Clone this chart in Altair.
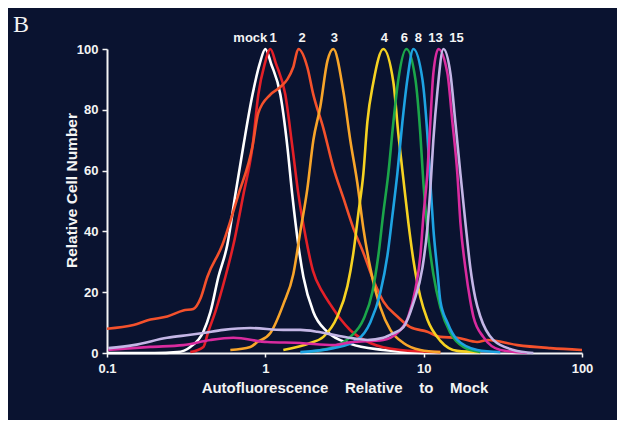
import altair as alt
import pandas as pd

SERIES = ["mock", "1", "2", "3", "4", "6", "8", "13", "15"]
COLORS = ["#ffffff", "#e42028", "#f4512c", "#f8a52a", "#f6d222", "#1ba64a", "#1ea3e2", "#d92b9f", "#c4b6e6"]

MOCK_X = [0.1, 0.2, 0.278, 0.336, 0.406, 0.45, 0.505, 0.575, 0.646, 0.726, 0.83, 0.92, 1.0, 1.09, 1.244, 1.377, 1.48, 1.616, 1.74, 2.01, 2.46, 3.44, 5.56, 10.0]
MOCK_Y = [0, 0, 0.3, 2, 7, 13.5, 25, 35.5, 52, 68, 85, 95, 100, 95, 85, 68, 52, 35.5, 25, 13.5, 7, 3, 1, 0]

S1_X = [0.336, 0.406, 0.436, 0.483, 0.559, 0.628, 0.726, 0.83, 0.903, 0.99, 1.076, 1.17, 1.337, 1.48, 1.62, 1.8, 2.0, 2.3, 2.574, 3.0, 3.44, 4.6, 7.13, 12.75]
S1_Y = [0.3, 2, 7, 13.5, 25, 35.5, 52, 68, 85, 95, 100, 95, 85, 68, 52, 38, 27, 20, 16, 11, 7.5, 3.3, 1, 0.3]

S2_X = [0.1, 0.147, 0.188, 0.24, 0.303, 0.351, 0.39, 0.43, 0.535, 0.675, 0.83, 0.903, 1.076, 1.244, 1.377, 1.5, 1.616, 1.842, 2.01, 2.324, 2.689, 3.11, 3.6, 4.16, 4.81, 5.56, 6.82, 8.24, 10.55, 12.75, 16.32, 21.8, 25.3, 39.1, 63.1, 100]
S2_Y = [8, 9.2, 11, 12, 14, 14.5, 18, 25, 35.5, 52, 68, 79, 85, 87.5, 90, 94, 100, 94, 85, 74, 61, 51, 41, 33, 24, 17, 12, 8.5, 7, 5.3, 5, 3.6, 4.3, 2.6, 1.6, 1]

S3_X = [0.601, 0.804, 0.89, 1.076, 1.299, 1.503, 1.664, 1.842, 2.01, 2.224, 2.465, 2.689, 3.11, 3.44, 3.81, 4.16, 4.6, 5.33, 6.16, 7.45, 9.53, 12.75]
S3_Y = [1, 2, 3.6, 6.6, 16, 26, 40, 54, 70, 81, 96, 100, 86, 70, 56, 41, 28, 15, 7.6, 3.3, 1, 0.3]

S4_X = [1.299, 1.923, 2.324, 2.85, 3.3, 3.6, 3.87, 4.16, 4.41, 4.81, 5.56, 6.44, 6.92, 7.45, 8.0, 8.61, 9.53, 10.55, 12.75, 16.32, 22.8]
S4_Y = [1, 3.3, 5.3, 12, 22, 33, 46, 59, 76, 89, 100, 89, 72, 57, 43, 30.6, 18.4, 11, 4, 0.7, 0.3]

S6_X = [1.923, 2.689, 3.44, 4.16, 4.74, 5.17, 5.56, 5.98, 6.44, 6.92, 7.78, 8.87, 9.53, 9.96, 10.55, 11.51, 12.75, 14.75, 17.82, 22.8]
S6_Y = [0.5, 2, 5.3, 11, 20, 32, 46, 59, 76, 90, 100, 90, 72, 56, 41, 26, 15, 6.6, 2, 0.3]

S8_X = [1.664, 2.689, 3.81, 4.6, 5.33, 5.9, 6.34, 6.82, 7.34, 7.89, 8.61, 9.82, 10.55, 11.02, 11.51, 12.21, 12.75, 14.12, 16.32, 21.8, 30.5]
S8_Y = [0.3, 1.6, 4.3, 10, 20, 32, 45, 59, 76, 90, 100, 90, 72, 56, 41, 27, 17, 10, 4.3, 1, 0.3]

S13_X = [0.102, 0.188, 0.303, 0.45, 0.628, 1.03, 1.664, 2.689, 3.44, 5.56, 6.82, 8.0, 8.87, 9.53, 9.96, 10.55, 11.02, 11.51, 12.39, 14.12, 15.18, 16.32, 17.06, 18.34, 19.72, 20.6, 23.8, 30.5, 45.2]
S13_Y = [1, 2, 2.6, 4.3, 5, 3.6, 3.3, 2.6, 3.5, 4.3, 6.6, 12, 21, 32, 45, 59, 76, 92, 100, 92, 76, 59, 43, 28, 17, 12, 5.3, 1, 0]

S15_X = [0.102, 0.147, 0.24, 0.336, 0.406, 0.543, 0.804, 1.3, 1.664, 2.13, 2.689, 3.6, 4.41, 5.56, 6.44, 7.45, 8.61, 9.82, 10.55, 11.02, 11.51, 12.21, 13.32, 14.75, 15.85, 17.06, 18.34, 19.72, 21.2, 22.8, 27.5, 36.9, 49.3]
S15_Y = [1.6, 2.6, 5, 6, 6.6, 7.6, 8.2, 7.6, 7.6, 7, 6, 4.8, 4.3, 5, 6.5, 8.5, 16.4, 28, 41, 54, 70, 86, 100, 92, 76, 59, 43, 28, 18, 12, 4.3, 1, 0]

LABEL_TEXT = ["mock", "1", "2", "3", "4", "6", "8", "13", "15"]
LABEL_X = [0.804, 1.12, 1.71, 2.73, 5.65, 7.55, 9.26, 11.86, 16.1]
LABEL_Y = [103.6] * 9

X_TICKS = [0.1, 1, 10, 100]
Y_TICKS = [0, 20, 40, 60, 80, 100]

XS = [MOCK_X, S1_X, S2_X, S3_X, S4_X, S6_X, S8_X, S13_X, S15_X]
YS = [MOCK_Y, S1_Y, S2_Y, S3_Y, S4_Y, S6_Y, S8_Y, S13_Y, S15_Y]

rows = []
for k, (name, xs, ys) in enumerate(zip(SERIES, XS, YS)):
    for i, (x, y) in enumerate(zip(xs, ys)):
        rows.append({"series": name, "k": k, "i": i, "x": x, "y": y})
df = pd.DataFrame(rows)
labels = pd.DataFrame({"t": LABEL_TEXT, "x": LABEL_X, "y": LABEL_Y})

FONT = "Liberation Sans"
WHITE = "#f4f4f4"
GAP = " \u00a0\u00a0\u00a0"
xscale = alt.Scale(type="log", domain=[0.1, 100], nice=False)
yscale = alt.Scale(domain=[0, 100], nice=False)

lines = alt.Chart(df).mark_line(strokeWidth=2.6, interpolate="monotone", strokeJoin="round").encode(
    x=alt.X("x:Q", scale=xscale, axis=alt.Axis(
        values=X_TICKS, format="~g", labelFlush=False,
        title=GAP.join(["Autofluorescence", "Relative", "to", "Mock"]),
        labelPadding=5, titlePadding=5)),
    y=alt.Y("y:Q", scale=yscale, axis=alt.Axis(
        values=Y_TICKS, title="Relative Cell Number",
        labelPadding=4, titleX=-28, titleY=141, titleFontSize=15.5)),
    color=alt.Color("series:N", scale=alt.Scale(domain=SERIES, range=COLORS), legend=None),
    detail="k:O",
    order="i:Q",
)

text = alt.Chart(labels).mark_text(
    font=FONT, fontWeight="bold", fontSize=13, color=WHITE, baseline="middle", align="center"
).encode(
    x=alt.X("x:Q", scale=xscale),
    y=alt.Y("y:Q", scale=yscale),
    text="t:N",
)

chart = alt.layer(lines, text).properties(
    width=475, height=304,
    autosize=alt.AutoSizeParams(type="none"),
    padding={"left": 99, "top": 41, "right": 35, "bottom": 67},
    title=alt.TitleParams(text="B", anchor="start", frame="group", dx=-94, dy=25, offset=1,
                          baseline="alphabetic", font="Liberation Serif", fontSize=24,
                          fontWeight="normal", color=WHITE),
).configure(background="#0a1330").configure_view(stroke=None).configure_axis(
    grid=False,
    domainColor=WHITE, domainWidth=2,
    tickColor=WHITE, tickWidth=1.5,
    labelColor=WHITE, labelFont=FONT, labelFontWeight="bold", labelFontSize=13,
    titleColor=WHITE, titleFont=FONT, titleFontWeight="bold", titleFontSize=15,
).configure_axisX(tickSize=4).configure_axisY(tickSize=5)

chart.save("out.html", embed_options={"renderer": "svg", "actions": False})
